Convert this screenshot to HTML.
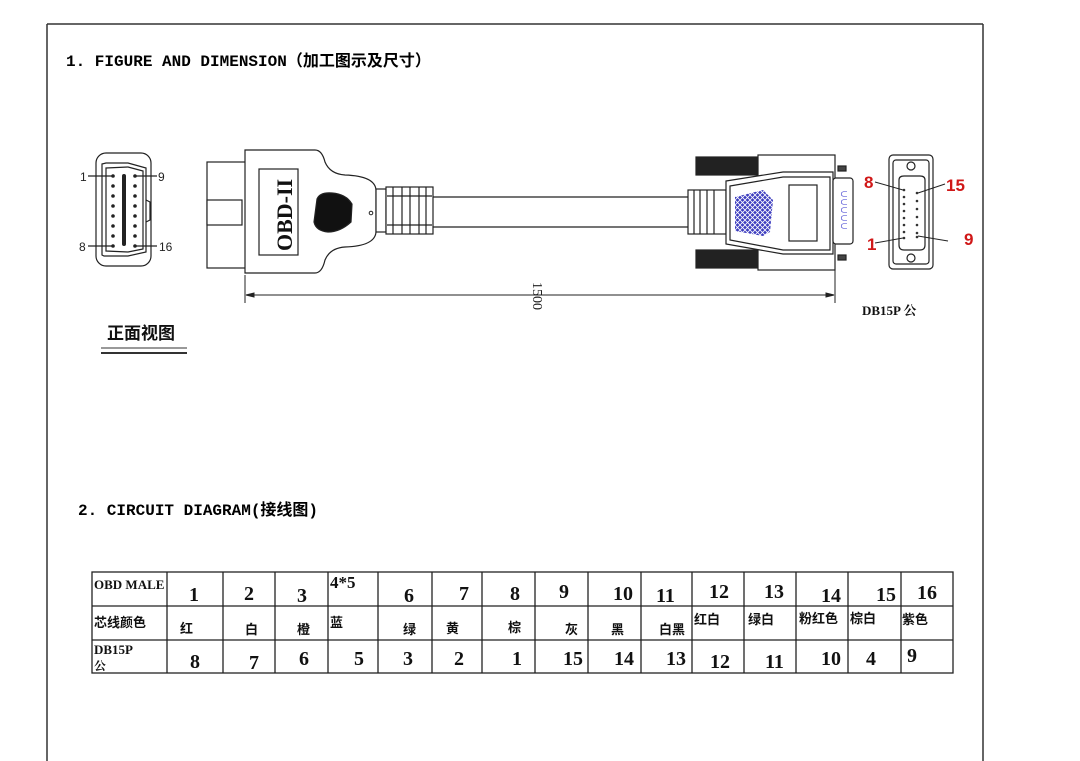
<!DOCTYPE html>
<html><head><meta charset="utf-8"><style>
body{margin:0;background:#fff;}
svg{display:block;font-family:"Liberation Serif","Noto Serif CJK SC",serif;}
.s{font-family:"Liberation Sans","Noto Sans CJK SC",sans-serif;}
</style></head><body>
<svg width="1080" height="761" viewBox="0 0 1080 761" xmlns="http://www.w3.org/2000/svg">
<rect width="1080" height="761" fill="#fff"/>
<line x1="47" y1="24" x2="983" y2="24" stroke="#333" stroke-width="1.5"/>
<line x1="47" y1="24" x2="47" y2="761" stroke="#333" stroke-width="1.5"/>
<line x1="983" y1="24" x2="983" y2="761" stroke="#333" stroke-width="1.5"/>

<text x="66" y="66" font-size="16" font-weight="bold" font-family="Liberation Mono,Noto Sans CJK SC,monospace">1. FIGURE AND DIMENSION（加工图示及尺寸）</text>
<text x="78" y="515" font-size="16" font-weight="bold" font-family="Liberation Mono,Noto Sans CJK SC,monospace">2. CIRCUIT DIAGRAM(接线图)</text>

<!-- OBD front view -->
<g stroke="#222" fill="none" stroke-width="1.2">
<rect x="96" y="153" width="55" height="113" rx="10"/>
<path d="M102 164 L106 163 L128 163 L146 168 L146 252 L128 256 L104 256 L102 255 Z"/>
<path d="M106 168 L128 167 L143 171 L143 249 L128 252 L106 251 Z"/>
<line x1="124" y1="176" x2="124" y2="244" stroke-width="4" stroke-linecap="round"/>
<path d="M146 200 L150 202 L150 220 L146 222"/>
<line x1="88" y1="176" x2="113" y2="176"/><line x1="135" y1="176" x2="157" y2="176"/>
<line x1="88" y1="246" x2="113" y2="246"/><line x1="135" y1="246" x2="157" y2="246"/>
</g>
<g fill="#222">
<circle cx="113" cy="176" r="1.8"/><circle cx="113" cy="186" r="1.8"/><circle cx="113" cy="196" r="1.8"/><circle cx="113" cy="206" r="1.8"/><circle cx="113" cy="216" r="1.8"/><circle cx="113" cy="226" r="1.8"/><circle cx="113" cy="236" r="1.8"/><circle cx="113" cy="246" r="1.8"/>
<circle cx="135" cy="176" r="1.8"/><circle cx="135" cy="186" r="1.8"/><circle cx="135" cy="196" r="1.8"/><circle cx="135" cy="206" r="1.8"/><circle cx="135" cy="216" r="1.8"/><circle cx="135" cy="226" r="1.8"/><circle cx="135" cy="236" r="1.8"/><circle cx="135" cy="246" r="1.8"/>
</g>
<g class="s" font-size="12" fill="#222">
<text x="80" y="181">1</text><text x="158" y="181">9</text>
<text x="79" y="251">8</text><text x="159" y="251">16</text>
</g>

<!-- OBD plug side -->
<g stroke="#222" fill="#fff" stroke-width="1.2">
<rect x="207" y="162" width="40" height="106"/>
<rect x="207" y="200" width="35" height="25"/>
<path d="M245 150 L315 150 Q322 150 325 162 Q330 174 345 175 Q375 176 376 190 L376 232 Q375 246 345 247 Q330 248 325 260 Q322 273 315 273 L245 273 Z"/>
<rect x="259" y="169" width="39" height="86"/>
<path d="M317 199 Q320 192 332 193 Q346 194 352 204 L351 222 Q340 232 328 232 Q316 231 314 222 Z" fill="#111"/>
<rect x="376" y="189" width="10" height="43"/>
<rect x="386" y="187" width="47" height="47"/>
<line x1="387" y1="196" x2="432" y2="196"/><line x1="387" y1="225" x2="432" y2="225"/>
<line x1="393" y1="187" x2="393" y2="234"/><line x1="402" y1="187" x2="402" y2="234"/><line x1="410" y1="187" x2="410" y2="234"/><line x1="419" y1="187" x2="419" y2="234"/><line x1="426" y1="187" x2="426" y2="234"/>
<line x1="433" y1="197" x2="690" y2="197"/><line x1="433" y1="227" x2="690" y2="227"/>
</g>
<circle cx="371" cy="213" r="1.8" fill="none" stroke="#222"/>
<text transform="translate(292,251) rotate(-90)" font-size="22" font-weight="bold" fill="#111">OBD-II</text>

<!-- DB15 side plug -->
<g stroke="#222" fill="#fff" stroke-width="1.2">
<rect x="696" y="157" width="62" height="18" fill="#222"/>
<rect x="696" y="250" width="62" height="18" fill="#222"/>
<rect x="758" y="155" width="77" height="115"/>
<rect x="688" y="190" width="38" height="44"/>
<line x1="694" y1="190" x2="694" y2="234"/><line x1="700" y1="190" x2="700" y2="234"/><line x1="707" y1="190" x2="707" y2="234"/><line x1="714" y1="190" x2="714" y2="234"/>
<path d="M726 181 L783 172 L833 172 L833 254 L783 254 L726 244 Z"/>
<path d="M730 186 L783 177 L830 177 L830 250 L783 250 L730 240 Z"/>
<rect x="789" y="185" width="28" height="56"/>
<rect x="833" y="178" width="20" height="66" rx="3"/>
<rect x="838" y="166" width="8" height="5" fill="#444"/><rect x="838" y="255" width="8" height="5" fill="#444"/>
</g>
<defs><pattern id="h" width="5" height="5" patternUnits="userSpaceOnUse"><rect width="5" height="5" fill="#3d3dbf"/><path d="M0 0 L5 5 M5 0 L0 5" stroke="#fff" stroke-width="0.8"/></pattern></defs>
<path d="M735 197 L763 190 L773 200 L770 232 L763 236 L735 231 Z" fill="url(#h)"/>
<g fill="#33c" class="s" font-size="8"><text x="840" y="197">⊂</text><text x="840" y="205">⊂</text><text x="840" y="213">⊂</text><text x="840" y="221">⊂</text><text x="840" y="229">⊂</text></g>

<!-- dimension -->
<g stroke="#222" stroke-width="1">
<line x1="245" y1="275" x2="245" y2="303"/><line x1="835" y1="265" x2="835" y2="303"/>
<line x1="246" y1="295" x2="834" y2="295"/>
<path d="M246 295 L254 293 L254 297 Z M834 295 L826 293 L826 297 Z" fill="#222"/>
</g>
<text transform="translate(533,282) rotate(90)" font-size="14" fill="#222">1500</text>

<!-- DB15 front -->
<g stroke="#222" fill="#fff" stroke-width="1.2">
<rect x="889" y="155" width="44" height="114" rx="4"/>
<rect x="893" y="160" width="36" height="104" rx="3"/>
<path d="M899 180 Q899 176 904 176 L920 176 Q925 176 925 180 L925 245 Q925 250 920 250 L904 250 Q899 250 899 245 Z"/>
<circle cx="911" cy="166" r="4"/><circle cx="911" cy="258" r="4"/>
</g>
<g fill="#333">
<circle cx="904" cy="190" r="1.3"/><circle cx="904" cy="197" r="1.3"/><circle cx="904" cy="204" r="1.3"/><circle cx="904" cy="211" r="1.3"/><circle cx="904" cy="218" r="1.3"/><circle cx="904" cy="225" r="1.3"/><circle cx="904" cy="232" r="1.3"/><circle cx="904" cy="238" r="1.3"/>
<circle cx="917" cy="193" r="1.3"/><circle cx="917" cy="201" r="1.3"/><circle cx="917" cy="209" r="1.3"/><circle cx="917" cy="217" r="1.3"/><circle cx="917" cy="225" r="1.3"/><circle cx="917" cy="233" r="1.3"/><circle cx="917" cy="237" r="1.3"/>
</g>
<g stroke="#222" stroke-width="1"><line x1="875" y1="182" x2="903" y2="190"/><line x1="945" y1="184" x2="918" y2="193"/><line x1="875" y1="243" x2="903" y2="238"/><line x1="948" y1="241" x2="918" y2="236"/></g>
<g class="s" font-weight="bold" font-size="17" fill="#d01818">
<text x="864" y="188">8</text><text x="946" y="191">15</text><text x="867" y="250">1</text><text x="964" y="245">9</text>
</g>
<text x="862" y="315" font-size="13" font-weight="bold" fill="#111">DB15P 公</text>

<text x="107" y="339" font-size="17" font-weight="bold" fill="#111" font-family="Noto Sans CJK SC,sans-serif">正面视图</text>
<line x1="101" y1="348" x2="187" y2="348" stroke="#333" stroke-width="1"/>
<line x1="101" y1="353" x2="187" y2="353" stroke="#333" stroke-width="2"/>

<!-- table -->
<g stroke="#222" stroke-width="1.3" fill="none">
<rect x="92" y="572" width="861" height="101"/>
<line x1="92" y1="606" x2="953" y2="606"/><line x1="92" y1="640" x2="953" y2="640"/>
<line x1="167" y1="572" x2="167" y2="673"/><line x1="223" y1="572" x2="223" y2="673"/><line x1="275" y1="572" x2="275" y2="673"/><line x1="328" y1="572" x2="328" y2="673"/><line x1="378" y1="572" x2="378" y2="673"/><line x1="432" y1="572" x2="432" y2="673"/><line x1="482" y1="572" x2="482" y2="673"/><line x1="535" y1="572" x2="535" y2="673"/><line x1="588" y1="572" x2="588" y2="673"/><line x1="641" y1="572" x2="641" y2="673"/><line x1="692" y1="572" x2="692" y2="673"/><line x1="744" y1="572" x2="744" y2="673"/><line x1="796" y1="572" x2="796" y2="673"/><line x1="848" y1="572" x2="848" y2="673"/><line x1="901" y1="572" x2="901" y2="673"/>
</g>
<g font-size="20" font-weight="bold" fill="#111">
<text x="189" y="601">1</text><text x="244" y="600">2</text><text x="297" y="602">3</text><text x="330" y="588" font-size="17">4*5</text><text x="404" y="602">6</text><text x="459" y="600">7</text><text x="510" y="600">8</text>
<text x="559" y="598">9</text><text x="613" y="600">10</text><text x="656" y="602">11</text><text x="709" y="598">12</text><text x="764" y="598">13</text><text x="821" y="602">14</text><text x="876" y="601">15</text><text x="917" y="599">16</text>
<text x="190" y="668">8</text><text x="249" y="669">7</text><text x="299" y="665">6</text><text x="354" y="665">5</text><text x="403" y="665">3</text><text x="454" y="665">2</text><text x="512" y="665">1</text>
<text x="563" y="665">15</text><text x="614" y="665">14</text><text x="666" y="665">13</text><text x="710" y="668">12</text><text x="765" y="668">11</text><text x="821" y="665">10</text><text x="866" y="665">4</text><text x="907" y="662">9</text>
</g>
<g font-size="13" font-weight="bold" fill="#111">
<text x="94" y="589">OBD MALE</text><text x="94" y="654">DB15P</text><text x="94" y="670" font-size="12">公</text>
</g>
<g font-family="Noto Sans CJK SC,sans-serif" font-weight="bold" font-size="13" fill="#111">
<text x="94" y="627">芯线颜色</text>
<text x="180" y="633">红</text><text x="245" y="634">白</text><text x="297" y="634">橙</text><text x="330" y="627">蓝</text><text x="403" y="634">绿</text><text x="446" y="633">黄</text><text x="508" y="632">棕</text>
<text x="565" y="634">灰</text><text x="611" y="634">黑</text><text x="659" y="634">白黑</text><text x="694" y="624">红白</text><text x="748" y="624">绿白</text><text x="799" y="623">粉红色</text><text x="850" y="623">棕白</text><text x="902" y="624">紫色</text>
</g>
</svg>
</body></html>
